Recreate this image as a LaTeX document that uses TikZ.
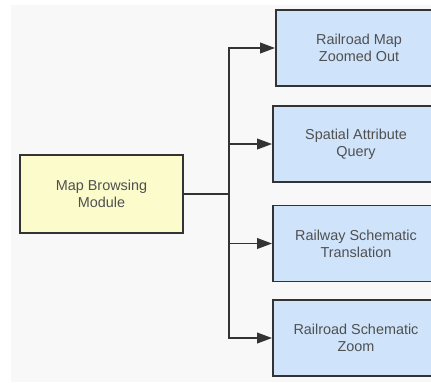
\documentclass[tikz,border=0pt]{standalone}
\usepackage{fontspec}
\setmainfont{Liberation Sans}
\usepackage{xcolor}
\usetikzlibrary{arrows.meta,calc,positioning}

\definecolor{bggray}{HTML}{F8F8F8}
\definecolor{linegray}{HTML}{333333}
\definecolor{textgray}{HTML}{505050}
\definecolor{mainyellow}{HTML}{FBFBCB}
\definecolor{subblue}{HTML}{CFE3FA}

\tikzset{
	mainbox/.style={draw=linegray,line width=1.1pt,fill=mainyellow,minimum width=3.26cm,minimum height=1.56cm,align=center,text=textgray,font=\fontsize{8.2}{9.7}\selectfont},
	subbox/.style={draw=linegray,line width=1.1pt,fill=subblue,minimum width=3.32cm,minimum height=1.52cm,align=center,text=textgray,font=\fontsize{8.2}{9.7}\selectfont},
	conn/.style={draw=linegray,line width=1.1pt},
	arr/.style={conn,-{Triangle[length=8.5pt,width=6pt]}}
}

\begin{document}
\begin{tikzpicture}[x=0.02cm,y=-0.02cm]
		\useasboundingbox (0,0) rectangle (431,382);
		\clip (0,0) rectangle (431,382);
		\fill[bggray] (11,5) rectangle (431,382);
		\node[mainbox] (browse) at (101.5,194) {Map Browsing\\Module};
		\node[subbox] (zoomout) at (359,48) {Railroad Map\\Zoomed Out};
		\node[subbox] (query) at (356,144) {Spatial Attribute\\Query};
		\node[subbox] (translate) at (356,243.5) {Railway Schematic\\Translation};
		\node[subbox] (zoom) at (356,338) {Railroad Schematic\\Zoom};
		\coordinate (fork) at (229,194);
		\draw[conn] (browse.east) -- (fork);
		\draw[arr] (fork) |- (zoomout.west);
		\draw[arr] (fork) |- (query.west);
		\draw[arr] (fork) |- (translate.west);
		\draw[arr] (fork) |- (zoom.west);
		\end{tikzpicture}
\end{document}
